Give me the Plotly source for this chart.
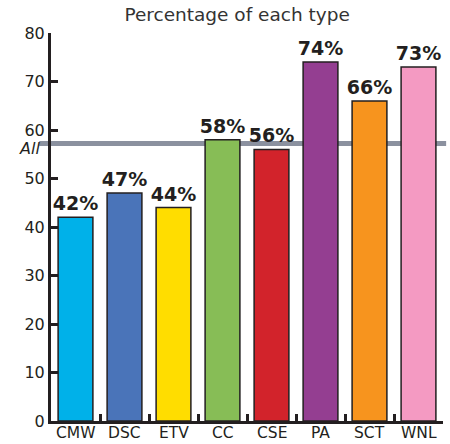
import plotly.graph_objects as go

categories = ["CMW", "DSC", "ETV", "CC", "CSE", "PA", "SCT", "WNL"]
values = [42, 47, 44, 58, 56, 74, 66, 73]
colors = ["#00b1e9", "#4a74b9", "#ffdd00", "#87bd56", "#d2232b", "#943e91", "#f7941e", "#f49ac2"]
all_value = 57.2
y_ticks = [0, 10, 20, 30, 40, 50, 60, 70, 80]

ink = "#231f20"
font = "DejaVu Sans"

fig = go.Figure(
    go.Bar(
        x=categories,
        y=values,
        marker=dict(color=colors, line=dict(color=ink, width=1.5)),
        width=0.71,
        text=[f"{v}%" for v in values],
        textposition="outside",
        constraintext="none",
        cliponaxis=False,
        textfont=dict(family=font, size=19, color=ink, weight="bold"),
    )
)

# overall reference line behind the bars
fig.add_shape(
    type="line", xref="paper", yref="y",
    x0=-0.03, x1=1.008, y0=all_value, y1=all_value,
    line=dict(color="#8b919f", width=5), layer="below",
)
fig.add_annotation(
    xref="paper", yref="y", x=-0.022, y=all_value, yshift=-5, text="<i>All</i>",
    showarrow=False, xanchor="right", yanchor="middle",
    font=dict(family=font, size=16, color=ink),
)

# category labels set tight under the axis line
for cat in categories:
    fig.add_annotation(
        x=cat, y=0, xref="x", yref="y", text=cat, showarrow=False,
        xanchor="center", yanchor="middle", yshift=-12,
        font=dict(family=font, size=15.5, color=ink),
    )

fig.update_layout(
    width=450, height=444,
    margin=dict(l=51, r=7, t=33, b=23, autoexpand=False),
    paper_bgcolor="white", plot_bgcolor="white",
    showlegend=False,
    bargap=0.29,
    title=dict(
        text="Percentage of each type", x=0.527, xanchor="center",
        y=0.982, yanchor="top", yref="container",
        font=dict(family=font, size=18.5, color="#333333"),
    ),
)
fig.update_xaxes(
    showline=True, linecolor=ink, linewidth=3,
    ticks="inside", ticklen=7, tickwidth=2.5, tickcolor=ink,
    tickson="boundaries", showgrid=False, showticklabels=False, automargin=False,
)
fig.update_yaxes(
    range=[0, 80], tickvals=y_ticks,
    showline=True, linecolor=ink, linewidth=3,
    ticks="inside", ticklen=7, tickwidth=2.5, tickcolor=ink,
    showgrid=False, zeroline=False, automargin=False,
    tickfont=dict(family=font, size=16, color=ink),
)

fig.write_html("out.html")
